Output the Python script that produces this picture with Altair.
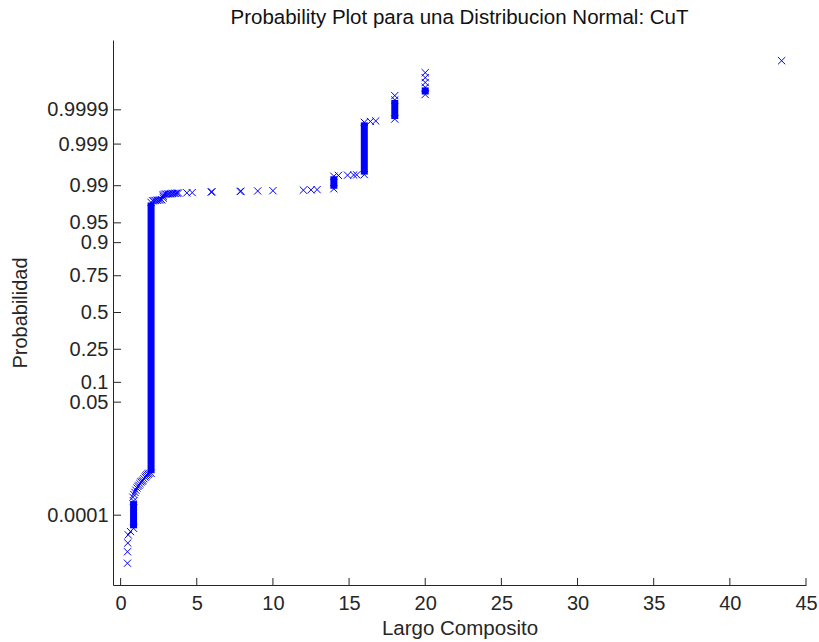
import altair as alt
import pandas as pd
from statistics import NormalDist

TITLE = "Probability Plot para una Distribucion Normal: CuT"
X_TITLE = "Largo Composito"
Y_TITLE = "Probabilidad"

# Runs of tied values (solid columns of markers): value, lowest and highest plotting probability
run_x = [0.85, 2.0, 14.0, 16.0, 18.0, 20.0]
run_p_lo = [3.75e-5, 1.589e-3, 0.98840, 0.99430, 0.999807, 0.9999683]
run_p_hi = [2.70e-4, 0.97831, 0.99379, 0.999758, 0.9999519, 0.9999819]

# Individual observations (value, plotting probability)
pt_x = [0.45, 0.45, 0.47, 0.50, 0.65,
        0.81, 0.87, 0.94, 1.00, 1.07, 1.13, 1.20, 1.27, 1.33, 1.40, 1.47, 1.53, 1.60, 1.66, 1.73, 1.80, 1.86,
        2.1, 2.2, 2.3, 2.4, 2.5, 2.6, 2.7,
        2.8, 2.8, 2.8,
        2.9, 3.0, 3.1, 3.2, 3.3, 3.4, 3.5, 3.6, 3.7, 3.8,
        4.35, 4.7, 5.95, 6.0, 7.85, 7.9, 9.0, 10.0, 12.0, 12.5, 12.9,
        14.3, 14.9, 15.3, 15.5,
        16.4, 16.75,
        18.0,
        20.0, 20.0, 20.0,
        43.4]
pt_p = [2.11e-6, 5.67e-6, 1.17e-5, 2.25e-5, 2.91e-5,
        3.49e-4, 4.19e-4, 4.83e-4, 5.57e-4, 6.41e-4, 7.11e-4, 7.62e-4, 8.45e-4, 9.36e-4, 9.84e-4,
        1.035e-3, 1.144e-3, 1.264e-3, 1.35e-3, 1.441e-3, 1.514e-3, 1.589e-3,
        0.97982, 0.97996, 0.98015, 0.98030, 0.98044, 0.98063, 0.98077,
        0.98214, 0.98341, 0.98461,
        0.98500, 0.98509, 0.98518, 0.98527, 0.98537, 0.98546, 0.98556, 0.98565, 0.98574, 0.98583,
        0.98592, 0.98610, 0.98645, 0.98662, 0.98679, 0.98696, 0.98713, 0.98729, 0.98761, 0.98778, 0.98793,
        0.99405, 0.99413, 0.99418, 0.99422,
        0.999772, 0.999780,
        0.9999655,
        0.9999878, 0.9999918, 0.9999946,
        0.99999808]

tick_p = [0.0001, 0.05, 0.1, 0.25, 0.5, 0.75, 0.9, 0.95, 0.99, 0.999, 0.9999]
x_ticks = [0, 5, 10, 15, 20, 25, 30, 35, 40, 45]

nd = NormalDist()
tick_z = [nd.inv_cdf(p) for p in tick_p]

FONT = "Liberation Sans"
FS = 20
AX = "#262626"
BLUE = "#0000FF"
XMARK = "M-1,-1L1,1M-1,1L1,-1"

runs = pd.DataFrame({"x": run_x, "p_lo": run_p_lo, "p_hi": run_p_hi})
pts = pd.DataFrame({
    "x": pt_x + run_x + run_x,
    "p": pt_p + run_p_lo + run_p_hi,
})
xt = pd.DataFrame({"x": x_ticks})
yt = pd.DataFrame({"p": tick_p})

xscale = alt.Scale(domain=[-0.5, 45], nice=False, zero=False)
yscale = alt.Scale(domain=[-5, 5], nice=False, zero=False)

x_axis = alt.Axis(
    values=x_ticks, title=X_TITLE, grid=False, ticks=False, tickSize=0,
    labelPadding=8, labelFlush=False, labelOverlap=False, labelBound=False,
    domainColor=AX, domainWidth=1, labelColor=AX, labelFont=FONT, labelFontSize=FS,
    titleFont=FONT, titleFontSize=20.5, titleFontWeight="normal", titleColor=AX,
    titleY=49, titleBaseline="alphabetic",
)
y_axis = alt.Axis(
    values=tick_z, title=Y_TITLE, grid=False, ticks=False, tickSize=0,
    labelExpr="format(cumulativeNormal(datum.value), '.4~f')",
    labelPadding=5, labelFlush=False, labelOverlap=False, labelBound=False,
    labelBaseline="middle",
    domainColor=AX, domainWidth=1, labelColor=AX, labelFont=FONT, labelFontSize=FS,
    titleFont=FONT, titleFontSize=20, titleFontWeight="normal", titleColor=AX,
    titleX=-87, titleY=272.5, titleAngle=-90, titleAlign="center", titleBaseline="alphabetic",
)

X = alt.X("x:Q", scale=xscale, axis=x_axis, title=X_TITLE)
Y = alt.Y("z:Q", scale=yscale, axis=y_axis, title=Y_TITLE)

col = alt.Chart(runs).transform_calculate(
    z="quantileNormal(datum.p_lo)", zhi="quantileNormal(datum.p_hi)"
).mark_rule(color=BLUE, strokeWidth=7, strokeCap="butt").encode(
    x=X, y=Y, y2="zhi:Q",
)

marks = alt.Chart(pts).transform_calculate(
    z="quantileNormal(datum.p)"
).mark_point(shape=XMARK, filled=False, color=BLUE, strokeWidth=1, size=52, opacity=1).encode(
    x=X, y=Y,
)

xticks = alt.Chart(xt).mark_rule(color=AX, strokeWidth=1).encode(
    x=X,
    y=alt.value(545), y2=alt.value(538),
)
yticks = alt.Chart(yt).transform_calculate(
    z="quantileNormal(datum.p)"
).mark_rule(color=AX, strokeWidth=1).encode(
    y=Y,
    x=alt.value(0), x2=alt.value(8),
)

chart = alt.layer(col, marks, xticks, yticks).properties(
    width=693, height=545,
    title=alt.TitleParams(TITLE, font=FONT, fontSize=20.5, fontWeight="normal", color="#111",
                          anchor="middle", baseline="alphabetic", offset=18, dy=22, frame="group"),
    autosize=alt.AutoSizeParams(type="none"),
    padding={"left": 113, "top": 40, "right": 13, "bottom": 57},
    background="white",
).configure_view(stroke=None)

chart.save("out.html", embed_options={"renderer": "svg", "actions": False})
